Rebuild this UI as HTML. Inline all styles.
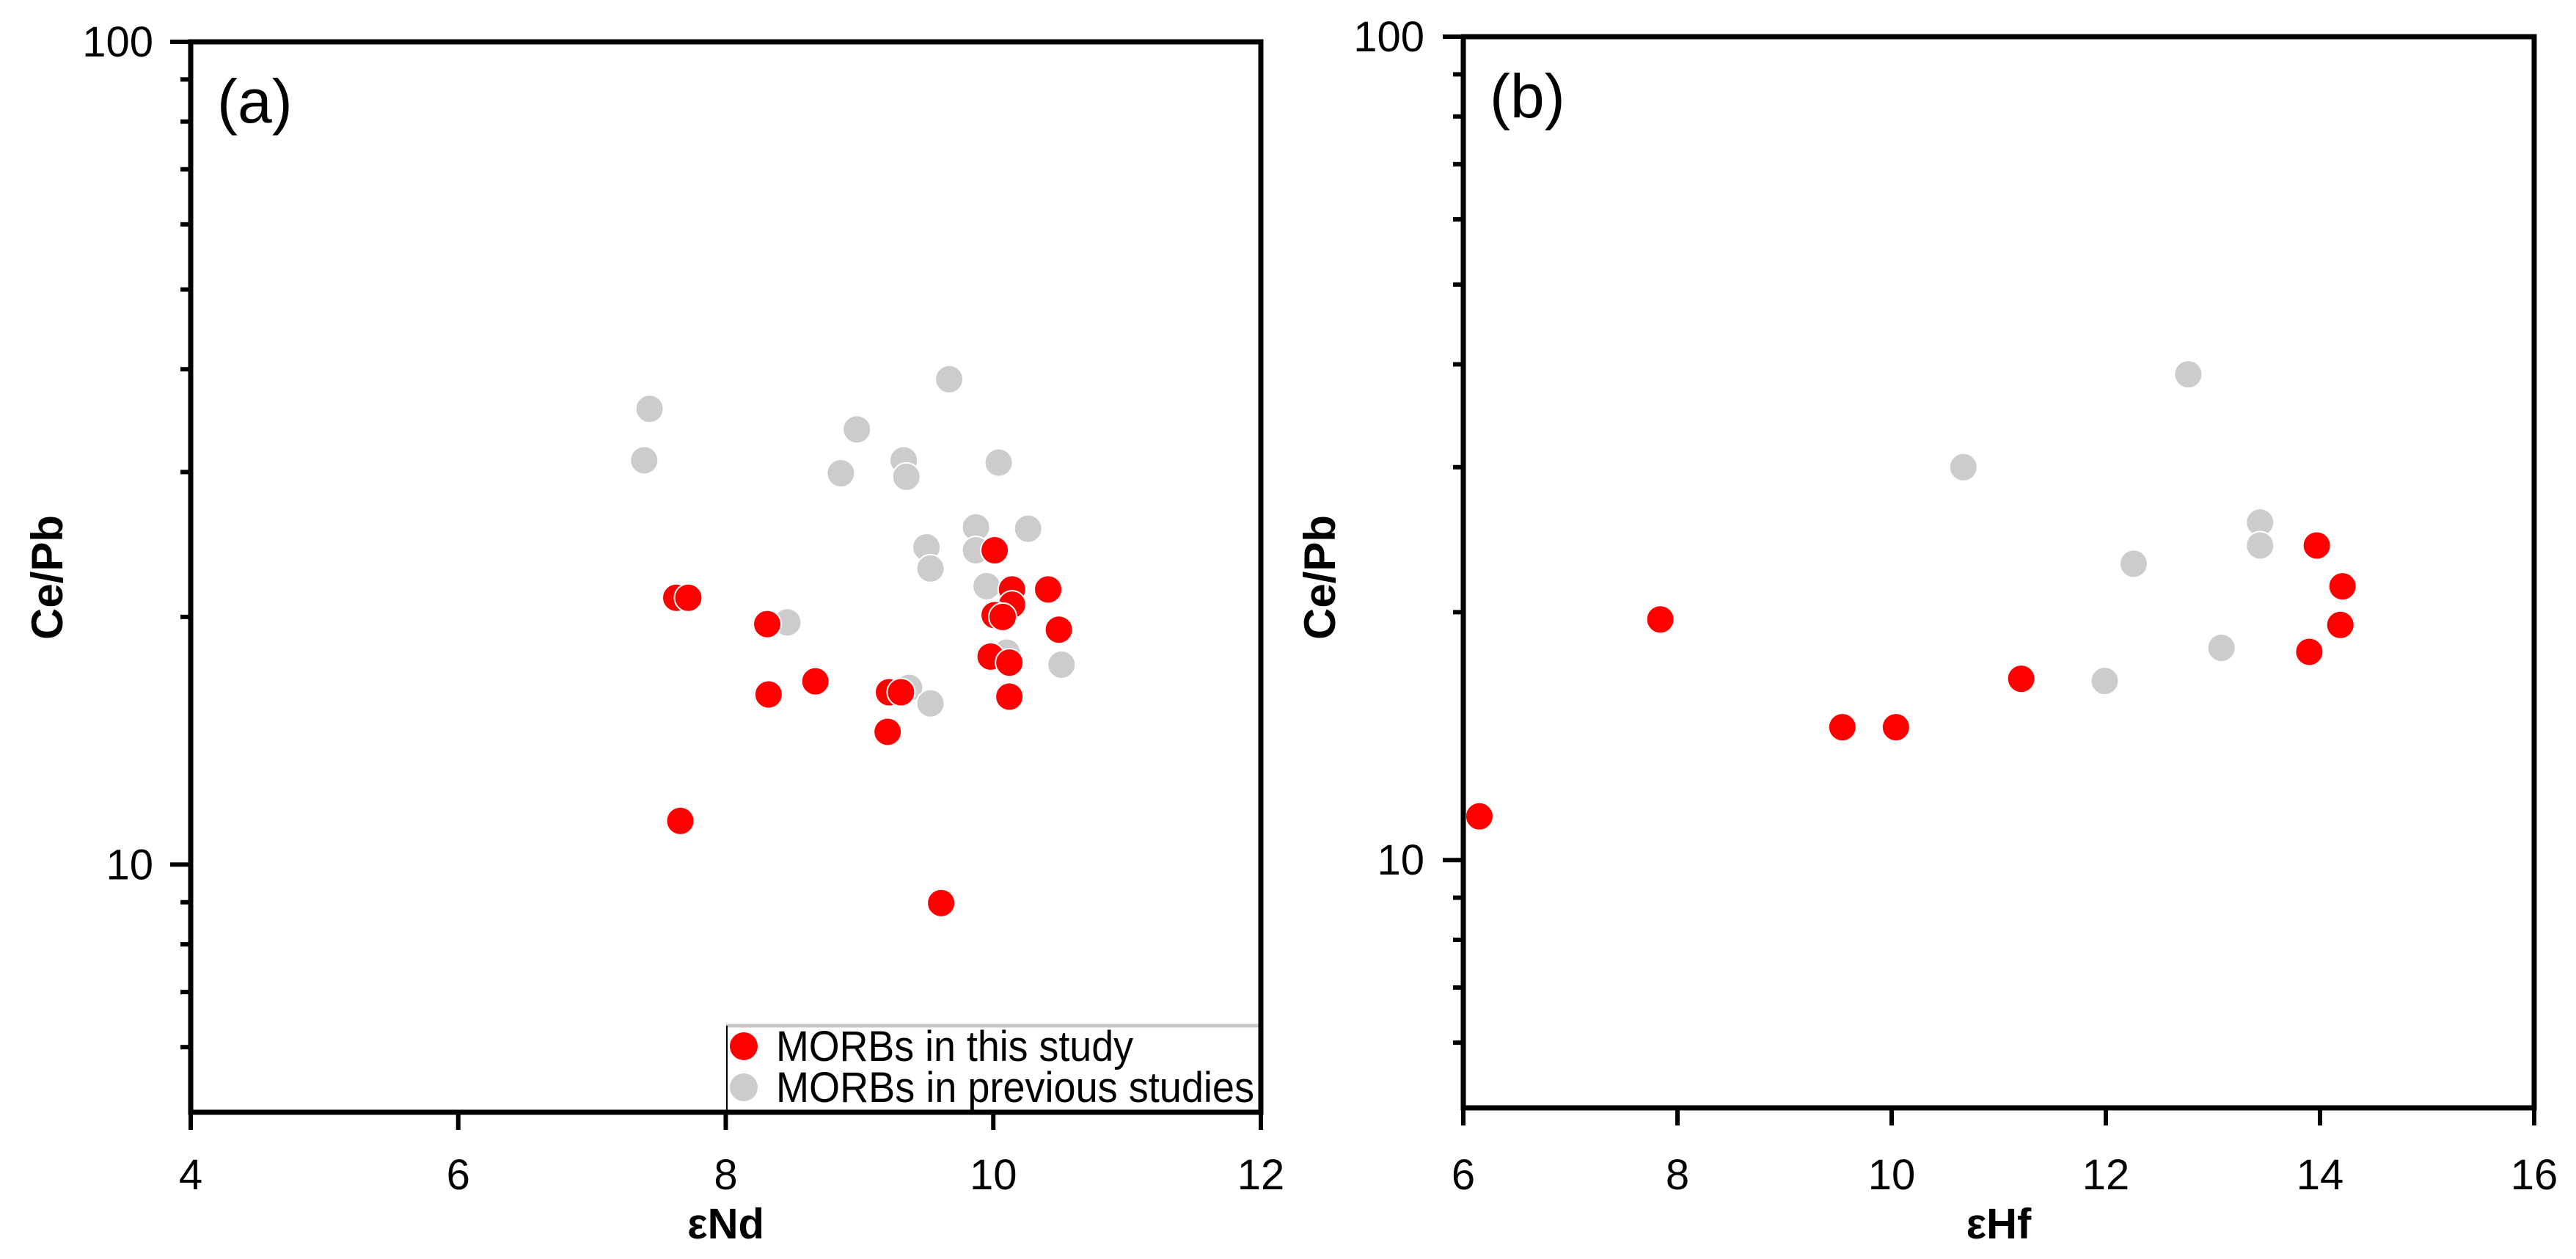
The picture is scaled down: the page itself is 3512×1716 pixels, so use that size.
<!DOCTYPE html>
<html><head><meta charset="utf-8">
<style>
html,body{margin:0;padding:0;background:#fff;}
svg{display:block;font-family:"Liberation Sans",Arial,sans-serif;}
</style></head>
<body>
<svg id="chart" width="3512" height="1716" viewBox="0 0 3512 1716" xmlns="http://www.w3.org/2000/svg">
<rect width="3512" height="1716" fill="#fff"/>
</svg>
<script>
// Panel (a): εNd vs Ce/Pb
const aXTicks = [4, 6, 8, 10, 12];
const aPrevX = [7.43, 7.39, 8.98, 8.86, 9.33, 9.35, 9.67, 10.04, 9.87, 10.26, 9.50, 9.87, 9.53, 9.95, 8.46, 10.10, 10.51, 9.37, 9.53];
const aPrevY = [35.8, 31.0, 33.8, 29.9, 31.0, 29.6, 38.9, 30.8, 25.7, 25.6, 24.3, 24.1, 22.9, 21.8, 19.7, 18.1, 17.5, 16.4, 15.7];
const aThisX = [7.63, 7.72, 8.31, 10.01, 10.14, 10.14, 10.41, 10.01, 10.07, 10.49, 9.98, 10.12, 8.32, 8.67, 9.22, 9.31, 10.12, 9.21, 7.66, 9.61];
const aThisY = [21.1, 21.1, 19.6, 24.1, 21.6, 20.7, 21.6, 20.1, 20.0, 19.3, 17.9, 17.6, 16.1, 16.7, 16.2, 16.2, 16.0, 14.5, 11.3, 8.98];
// Panel (b): εHf vs Ce/Pb
const bXTicks = [6, 8, 10, 12, 14, 16];
const bPrevX = [12.77, 10.67, 13.44, 13.44, 12.26, 13.08, 11.99];
const bPrevY = [38.9, 30.0, 25.7, 24.1, 22.9, 18.1, 16.5];
const bThisX = [13.97, 14.21, 14.19, 13.90, 7.84, 11.21, 9.54, 10.04, 6.15];
const bThisY = [24.1, 21.5, 19.3, 17.9, 19.6, 16.6, 14.5, 14.5, 11.3];
const yMajor = [10, 100];
const yMinor = [6, 7, 8, 9, 20, 30, 40, 50, 60, 70, 80, 90];

const NS = "http://www.w3.org/2000/svg";
const svg = document.getElementById('chart');
function mk(tag, attrs, parent) {
  const e = document.createElementNS(NS, tag);
  for (const k in attrs) e.setAttribute(k, attrs[k]);
  (parent || svg).appendChild(e);
  return e;
}

function panel(cfg) {
  const g = mk('g', {});
  
  
  const L = cfg.left, R = cfg.right, T = cfg.top, B = cfg.bottom;
  const xs = v => L + (v - cfg.xmin) / (cfg.xmax - cfg.xmin) * (R - L);
  const ys = v => B - (Math.log10(v) - Math.log10(5)) / (2 - Math.log10(5)) * (B - T);

  // points: previous first, then this study
  const prevG = mk('g', {}, g);
  
  
  cfg.prevX.forEach((x, i) => {
    const c = mk('circle', {cx: xs(x), cy: ys(cfg.prevY[i]), r: 19, fill: '#cccccc', stroke: '#fff', 'stroke-width': 2}, prevG);
    
    
  });
  const thisG = mk('g', {}, g);
  
  
  cfg.thisX.forEach((x, i) => {
    const c = mk('circle', {cx: xs(x), cy: ys(cfg.thisY[i]), r: 19, fill: '#ff0000', stroke: '#fff', 'stroke-width': 2}, thisG);
    
    
  });

  // legend (panel a)
  if (cfg.legend) {
    const lg = mk('g', {}, g);
    
    
    mk('rect', {x: 990, y: 1398, width: R - 990, height: B - 1398, fill: '#fff'}, lg);
    mk('line', {x1: 990, y1: 1398, x2: R, y2: 1398, stroke: '#c8c8c8', 'stroke-width': 5}, lg);
    mk('line', {x1: 991, y1: 1398, x2: 991, y2: B, stroke: '#000', 'stroke-width': 2}, lg);
    mk('circle', {cx: 1014, cy: 1426, r: 19, fill: '#ff0000'}, lg);
    mk('circle', {cx: 1014, cy: 1482, r: 19, fill: '#cccccc'}, lg);
    const t1 = mk('text', {x: 1058, y: 1446, 'font-size': 58, textLength: 487, lengthAdjust: 'spacingAndGlyphs'}, lg);
    t1.textContent = 'MORBs in this study';
    
    
    const t2 = mk('text', {x: 1058, y: 1502, 'font-size': 58, textLength: 652, lengthAdjust: 'spacingAndGlyphs'}, lg);
    t2.textContent = 'MORBs in previous studies';
    
    
  }

  // frame
  const fr = mk('rect', {x: L, y: T, width: R - L, height: B - T, fill: 'none', stroke: '#000', 'stroke-width': 7}, g);
  
  

  // y ticks
  yMajor.forEach(v => {
    mk('line', {x1: L - 28, y1: ys(v), x2: L, y2: ys(v), stroke: '#000', 'stroke-width': 6}, g);
    const t = mk('text', {x: cfg.ylabX, y: ys(v) + 20, 'font-size': 58, 'text-anchor': 'end'}, g);
    t.textContent = String(v);
    
    
  });
  yMinor.forEach(v => {
    mk('line', {x1: L - 14, y1: ys(v), x2: L, y2: ys(v), stroke: '#000', 'stroke-width': 6}, g);
  });
  // x ticks
  cfg.xticks.forEach(v => {
    mk('line', {x1: xs(v), y1: B, x2: xs(v), y2: B + 24, stroke: '#000', 'stroke-width': 6}, g);
    const t = mk('text', {x: xs(v), y: 1621, 'font-size': 58, 'text-anchor': 'middle'}, g);
    t.textContent = String(v);
    
    
  });
  // titles
  const xt = mk('text', {x: (L + R) / 2, y: 1688, 'font-size': 58, 'font-weight': 'bold', 'text-anchor': 'middle'}, g);
  xt.textContent = cfg.xtitle;
  
  
  const yt = mk('text', {x: 0, y: 0, 'font-size': 60, 'font-weight': 'bold', 'text-anchor': 'middle', transform: 'translate(' + cfg.ytitleX + ',787) rotate(-90)'}, g);
  yt.textContent = 'Ce/Pb';
  
  
  const pl = mk('text', {x: L + 36, y: T + 110, 'font-size': 84}, g);
  pl.textContent = cfg.label;
  
  
}

panel({name: 'panel-a', left: 260, right: 1719, top: 57, bottom: 1516, xmin: 4, xmax: 12,
  xticks: aXTicks, prevX: aPrevX, prevY: aPrevY, thisX: aThisX, thisY: aThisY,
  legend: true, ylabX: 209, ytitleX: 85, xtitle: 'εNd', label: '(a)'});
panel({name: 'panel-b', left: 1995, right: 3455, top: 50, bottom: 1510, xmin: 6, xmax: 16,
  xticks: bXTicks, prevX: bPrevX, prevY: bPrevY, thisX: bThisX, thisY: bThisY,
  legend: false, ylabX: 1942, ytitleX: 1820, xtitle: 'εHf', label: '(b)'});
</script>
</body></html>
